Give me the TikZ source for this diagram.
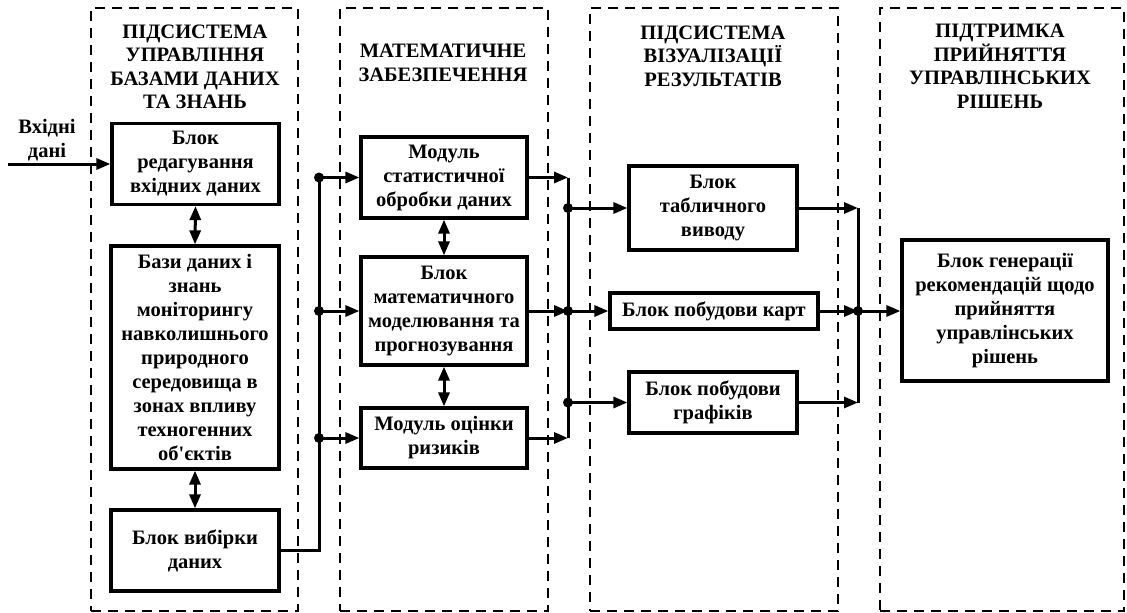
\documentclass[tikz,border=0pt]{standalone}
\usepackage{fontspec}
\setmainfont{Liberation Serif}[Ligatures=TeXOff]
\usetikzlibrary{arrows.meta}
\begin{document}
\begin{tikzpicture}[x=1pt,y=-1pt,
 txt/.style={font=\bfseries\fontsize{20.5}{24}\selectfont, align=center},
 blk/.style={draw, line width=3.2pt, txt, inner sep=0pt},
 grp/.style={draw, dash pattern=on 10pt off 7pt, line width=1.8pt, inner sep=0pt},
 ttl/.style={txt, font=\bfseries\fontsize{20.5}{23.5}\selectfont},
 ln/.style={line width=3pt},
 arr/.style={line width=3pt, -{Triangle[length=14pt,width=11pt]}},
 dbl/.style={line width=3pt, {Triangle[length=14pt,width=11pt]}-{Triangle[length=14pt,width=11pt]}},
 dot/.style={circle, fill, inner sep=0pt, minimum size=10pt}]
\useasboundingbox (0,0) rectangle (1127,613);
% groups
\node[grp, minimum width=207pt, minimum height=603pt] (g1) at (194.5,309.5) {};
\node[grp, minimum width=208pt, minimum height=603pt] (g2) at (444,309.5) {};
\node[grp, minimum width=248pt, minimum height=603pt] (g3) at (714,309.5) {};
\node[grp, minimum width=244pt, minimum height=603pt] (g4) at (1002,309.5) {};
% titles
\node[ttl] (t1) at (195,67) {ПІДСИСТЕМА\\УПРАВЛІННЯ\\БАЗАМИ ДАНИХ\\ТА ЗНАНЬ};
\node[ttl] (t2) at (443,63) {МАТЕМАТИЧНЕ\\ЗАБЕЗПЕЧЕННЯ};
\node[ttl] (t3) at (713,56) {ПІДСИСТЕМА\\ВІЗУАЛІЗАЦІЇ\\РЕЗУЛЬТАТІВ};
\node[ttl] (t4) at (1000,66) {ПІДТРИМКА\\ПРИЙНЯТТЯ\\УПРАВЛІНСЬКИХ\\РІШЕНЬ};
% boxes
\node[blk, minimum width=167pt, minimum height=81pt] (b1) at (195.5,164) {Блок\\редагування\\вхідних даних};
\node[blk, minimum width=168pt, minimum height=223pt] (b2) at (195,357.5) {Бази даних і\\знань\\моніторингу\\навколишнього\\природного\\середовища в\\зонах впливу\\техногенних\\об'єктів};
\node[blk, minimum width=168pt, minimum height=81pt] (b3) at (195,550.5) {Блок вибірки\\даних};
\node[blk, minimum width=166pt, minimum height=81pt] (m1) at (444,177.5) {Модуль\\статистичної\\обробки даних};
\node[blk, minimum width=166pt, minimum height=108pt] (m2) at (444,311) {Блок\\математичного\\моделювання та\\прогнозування};
\node[blk, minimum width=166pt, minimum height=60pt] (m3) at (444,438) {Модуль оцінки\\ризиків};
\node[blk, minimum width=168pt, minimum height=84pt] (v1) at (713,208) {Блок\\табличного\\виводу};
\node[blk, minimum width=208pt, minimum height=36pt] (v2) at (714,311) {Блок побудови карт};
\node[blk, minimum width=168pt, minimum height=61pt] (v3) at (713,402.5) {Блок побудови\\графіків};
\node[blk, minimum width=206pt, minimum height=141pt] (r1) at (1005,310.5) {Блок генерації\\рекомендацій щодо\\прийняття\\управлінських\\рішень};
% input
\node[txt] (inl) at (47,140) {Вхідні\\дані};
\coordinate (in) at (8,164);
\draw[arr] (in) -- (b1.west);
% vertical double arrows
\draw[dbl] (b1.south) -- (b2.north);
\draw[dbl] (b2.south) -- (b3.north);
\draw[dbl] (m1.south) -- (m2.north);
\draw[dbl] (m2.south) -- (m3.north);
% bus 1
\coordinate (j1) at (319,177.5);
\coordinate (j2) at (319,311);
\coordinate (j3) at (319,438);
\draw[ln] (b3.east) -| (j1);
\draw[arr] (j1) -- (m1.west);
\draw[arr] (j2) -- (m2.west);
\draw[arr] (j3) -- (m3.west);
\node[dot] at (j1) {};
\node[dot] at (j2) {};
\node[dot] at (j3) {};
% bus 2
\coordinate (k1) at (568,177.5);
\coordinate (k2) at (568,311);
\coordinate (k3) at (568,438);
\coordinate (ka) at (568,208);
\coordinate (kc) at (568,402.5);
\draw[ln] (k1) -- (k3);
\draw[arr] (m1.east) -- (k1);
\draw[arr] (m2.east) -- (k2);
\draw[arr] (m3.east) -- (k3);
\draw[arr] (ka) -- (v1.west);
\draw[arr] (k2) -- (v2.west);
\draw[arr] (kc) -- (v3.west);
\node[dot] at (ka) {};
\node[dot] at (k2) {};
\node[dot] at (kc) {};
% bus 3
\coordinate (q1) at (858,208);
\coordinate (q2) at (858,311);
\coordinate (q3) at (858,402.5);
\draw[ln] (q1) -- (q3);
\draw[arr] (v1.east) -- (q1);
\draw[arr] (v2.east) -- (q2);
\draw[arr] (v3.east) -- (q3);
\draw[arr] (q2) -- (q2 -| r1.west);
\node[dot] at (q2) {};
\end{tikzpicture}
\end{document}
